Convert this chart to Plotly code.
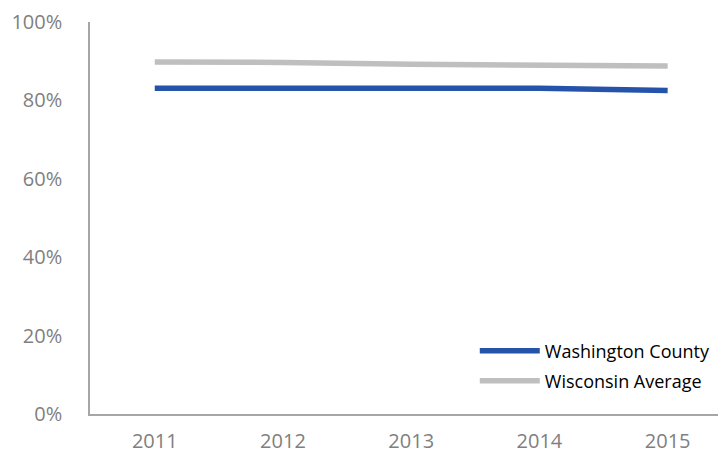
import plotly.graph_objects as go

years = ["2011", "2012", "2013", "2014", "2015"]
washington = [83.1, 83.1, 83.1, 83.1, 82.5]
wisconsin = [89.8, 89.7, 89.2, 89.0, 88.8]
y_ticks = [0, 20, 40, 60, 80, 100]
y_labels = ["0%", "20%", "40%", "60%", "80%", "100%"]

xpos = list(range(len(years)))

fig = go.Figure()
fig.add_trace(go.Scatter(x=xpos, y=washington, mode="lines", name="Washington County",
                         line=dict(color="#2653AA", width=5.5), legend="legend"))
fig.add_trace(go.Scatter(x=xpos, y=wisconsin, mode="lines", name="Wisconsin Average",
                         line=dict(color="#BFBFBF", width=5.5), legend="legend2"))

legend_common = dict(xanchor="left", yanchor="middle",
                     font=dict(size=18, color="#000000", family="Open Sans, sans-serif"),
                     bgcolor="rgba(0,0,0,0)", itemwidth=60)

# page offset: body margin 8px
fig.update_layout(
    width=718, height=445,
    margin=dict(l=82, r=0, t=14, b=39),
    paper_bgcolor="white", plot_bgcolor="white",
    font=dict(family="Open Sans, Liberation Sans, sans-serif", color="#7F7F7F"),
    showlegend=True,
    legend=dict(x=0.605, y=(406 - 343) / 392, **legend_common),
    legend2=dict(x=0.605, y=(406 - 373) / 392, **legend_common),
    xaxis=dict(range=[-0.505, 4.455], tickvals=xpos, ticktext=years,
               showgrid=False, zeroline=False, showline=True,
               linecolor="#A6A6A6", linewidth=1.5, ticks="",
               tickfont=dict(size=20, color="#7F7F7F"), ticklabelstandoff=8),
    yaxis=dict(range=[0, 100], tickvals=y_ticks, ticktext=y_labels,
               showgrid=False, zeroline=False, showline=True,
               linecolor="#A6A6A6", linewidth=1.5, ticks="",
               tickfont=dict(size=20, color="#7F7F7F"), ticklabelstandoff=22),
)

fig.write_html("out.html")
